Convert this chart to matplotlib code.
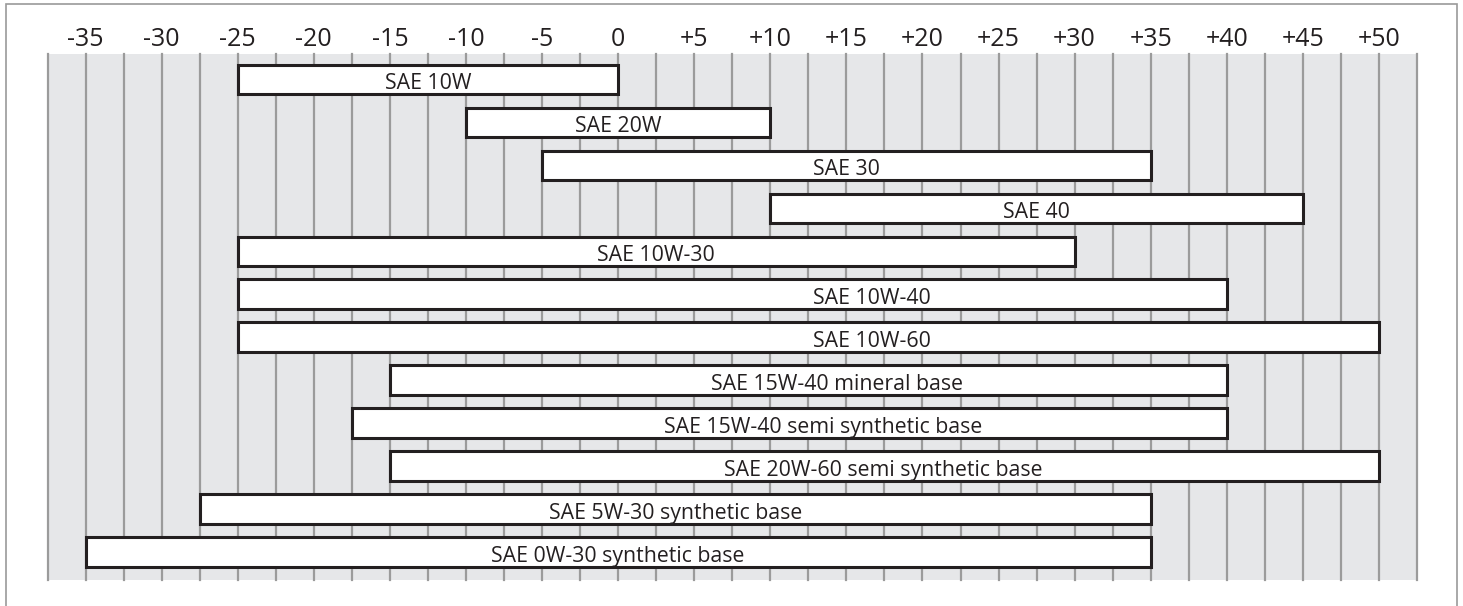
import numpy as np
import matplotlib.pyplot as plt
from matplotlib.patches import Rectangle

plt.rcParams['font.family'] = ['Open Sans', 'DejaVu Sans']

# oil grades and their temperature ranges (deg C)
grades = ["SAE 10W", "SAE 20W", "SAE 30", "SAE 40", "SAE 10W-30", "SAE 10W-40",
          "SAE 10W-60", "SAE 15W-40 mineral base", "SAE 15W-40 semi synthetic base",
          "SAE 20W-60 semi synthetic base", "SAE 5W-30 synthetic base",
          "SAE 0W-30 synthetic base"]
t_min = [-25, -10, -5, 10, -25, -25, -25, -15, -17.5, -15, -27.5, -35]
t_max = [0, 10, 35, 45, 30, 40, 50, 40, 40, 50, 35, 35]
# where the label text sits (not always the bar centre)
label_x = [-12.5, 0, 15, 27.5, 2.5, 16.7, 16.7, 14.4, 13.5, 17.4, 3.75, 0]

tick_vals = list(range(-35, 51, 5))
tick_labels = [("+%d" % t if t > 0 else "%d" % t) for t in tick_vals]

W, H = 1463, 606
fig = plt.figure(figsize=(W / 100, H / 100), dpi=100)
ax = fig.add_axes([47.5 / W, 1 - 580 / H, (1417 - 47.5) / W, (580 - 54) / H])
ax.set_facecolor("#e6e7e9")

# outer frame
fig.patches.append(Rectangle((5.5 / W, -0.05), (1457 - 5.5) / W, 1.05 - 4.5 / H,
                             transform=fig.transFigure, fill=False,
                             edgecolor="#9a9a9a", lw=1.2))

# vertical grid lines every 2.5 degrees
for xv in np.arange(-37.5, 52.6, 2.5):
    ax.axvline(xv, color="#9b9b9b", lw=1.6, zorder=1, clip_on=False)

y = np.arange(len(grades))
widths = np.array(t_max) - np.array(t_min)
ax.barh(y, widths, left=t_min, height=0.69, color="white",
        edgecolor="#231f20", linewidth=2.2, zorder=2)

for yi, lx, name in zip(y, label_x, grades):
    ax.text(lx, yi + 0.23, name, ha="center", va="baseline", fontsize=15.3,
            color="#231f20", zorder=3)

ax.set_xlim(-37.5, 52.5)
ax.set_ylim(11.652, -0.594)
ax.xaxis.tick_top()
ax.set_xticks(tick_vals)
ax.set_xticklabels(tick_labels, fontsize=18, color="#231f20")
ax.tick_params(axis="x", length=0, pad=1.5)
ax.set_yticks([])
for s in ax.spines.values():
    s.set_visible(False)

fig.savefig("out.png", dpi=100)
